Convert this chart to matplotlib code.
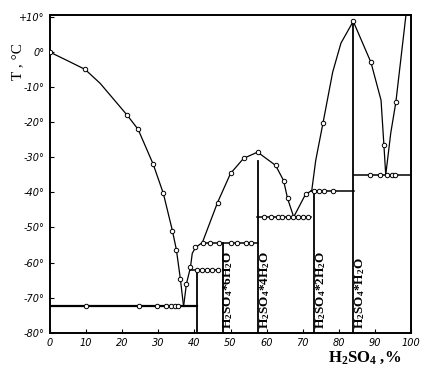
import matplotlib
matplotlib.use("Agg")
import matplotlib.pyplot as plt

plt.rcParams["mathtext.default"] = "regular"

# liquidus curves (% H2SO4, T degC)
ice_x = [0, 4.6, 9.7, 13.9, 18.6, 21.4, 24.4, 28.6, 31.4, 33.9, 35.0, 36.1, 37.0]
ice_t = [0, -2.3, -4.9, -8.9, -14.6, -18.0, -22.0, -32.0, -40.3, -50.9, -56.3, -64.6, -72.5]
ice_pts_x = [0, 9.7, 21.4, 24.4, 28.6, 31.4, 33.9, 35.0, 36.1]
ice_pts_t = [0, -4.9, -18.0, -22.0, -32.0, -40.3, -50.9, -56.3, -64.6]

mid_x = [37.0, 37.8, 38.9, 39.4, 40.3, 42.2, 46.4, 50.0, 53.6, 57.5, 62.5, 64.7, 65.8, 67.5]
mid_t = [-72.5, -66.0, -61.4, -57.4, -55.7, -54.3, -42.9, -34.6, -30.3, -28.5, -32.3, -36.6, -41.7, -47.0]
mid_pts_x = [37.8, 38.9, 40.3, 46.4, 50.0, 53.6, 57.5, 62.5, 64.7, 65.8]
mid_pts_t = [-66.0, -61.4, -55.7, -42.9, -34.6, -30.3, -28.5, -32.3, -36.6, -41.7]

hi_x = [67.5, 70.8, 72.5, 73.6, 75.6, 78.3, 80.6, 84.0, 88.9, 91.7, 92.5, 93.0, 94.4, 95.8, 98.6]
hi_t = [-47.0, -40.5, -39.5, -30.9, -20.3, -5.7, 2.6, 8.8, -2.9, -13.7, -26.6, -35.0, -23.0, -14.3, 10.6]
hi_pts_x = [70.8, 75.6, 84.0, 88.9, 92.5, 95.8]
hi_pts_t = [-40.5, -20.3, 8.8, -2.9, -26.6, -14.3]

# invariant horizontals: (T, x from, x to) and their points
h_t = [-72.5, -62.0, -54.3, -47.0, -39.5, -35.0]
h_x0 = [0, 38.9, 42.2, 57.2, 72.2, 84.2]
h_x1 = [40.6, 46.7, 57.5, 72.2, 84.2, 100]
h_pts = [
    [10, 24.7, 29.7, 32.0, 33.5, 34.5, 35.5],
    [40.8, 42.2, 43.6, 45.0, 46.4],
    [42.5, 44.4, 46.7, 50.0, 51.9, 54.2, 55.6],
    [59.2, 61.1, 63.1, 64.4, 65.8, 67.2, 68.6, 70.0, 71.4],
    [73.1, 74.5, 75.9, 78.4],
    [88.6, 91.4, 93.3, 94.7, 95.5],
]

# compound verticals: x, top T
v_x = [40.6, 47.8, 57.5, 73.0, 84.0]
v_top = [-62.0, -54.3, -31.0, -39.5, 8.8]

labels = ["H$_2$SO$_4$*6H$_2$O", "H$_2$SO$_4$*4H$_2$O", "H$_2$SO$_4$*2H$_2$O", "H$_2$SO$_4$*H$_2$O"]
label_x = [49.4, 59.7, 75.0, 85.8]

xticks = [0, 10, 20, 30, 40, 50, 60, 70, 80, 90, 100]
yticks = [10, 0, -10, -20, -30, -40, -50, -60, -70, -80]
ytick_labels = ["+10°", "0°", "-10°", "-20°", "-30°", "-40°", "-50°", "-60°", "-70°", "-80°"]

fig = plt.figure(figsize=(4.26, 3.80), dpi=100)
ax = fig.add_axes([0.1174, 0.1245, 0.8474, 0.836])

mk = dict(marker="o", ms=3.2, mfc="white", mec="black", mew=0.7, ls="none", zorder=4)

for cx, ct in [(ice_x, ice_t), (mid_x, mid_t), (hi_x, hi_t)]:
    ax.plot(cx, ct, color="black", lw=0.9, zorder=3)
for px, pt in [(ice_pts_x, ice_pts_t), (mid_pts_x, mid_pts_t), (hi_pts_x, hi_pts_t)]:
    ax.plot(px, pt, **mk)

for t, x0, x1, pts in zip(h_t, h_x0, h_x1, h_pts):
    ax.plot([x0, x1], [t, t], color="black", lw=1.6 if t == -72.5 else 1.1, zorder=3)
    ax.plot(pts, [t] * len(pts), **mk)

for x, top in zip(v_x, v_top):
    ax.plot([x, x], [-80, top], color="black", lw=1.3, zorder=3)

for lab, x in zip(labels, label_x):
    ax.text(x, -79.0, lab, rotation=90, ha="center", va="bottom",
            family="Liberation Serif", fontsize=9.5, fontweight="bold")

ax.set_xlim(0, 100)
ax.set_ylim(-80, 10.6)
ax.set_xticks(xticks)
ax.set_xticklabels([str(v) for v in xticks], fontsize=7, style="italic")
ax.set_yticks(yticks)
ax.set_yticklabels(ytick_labels, fontsize=7, style="italic")
ax.tick_params(direction="in", length=3, width=0.8, pad=4)
for s in ax.spines.values():
    s.set_linewidth(1.4)

fig.text(18 / 426, 1 - 62 / 380, "T , °C", rotation=90, ha="center", va="center",
         family="Liberation Serif", fontsize=11)
fig.text(365 / 426, 1 - 358 / 380, "H$_2$SO$_4$ ,%", ha="center", va="center",
         family="Liberation Serif", fontsize=12, fontweight="bold")

fig.savefig("out.png", dpi=100)
